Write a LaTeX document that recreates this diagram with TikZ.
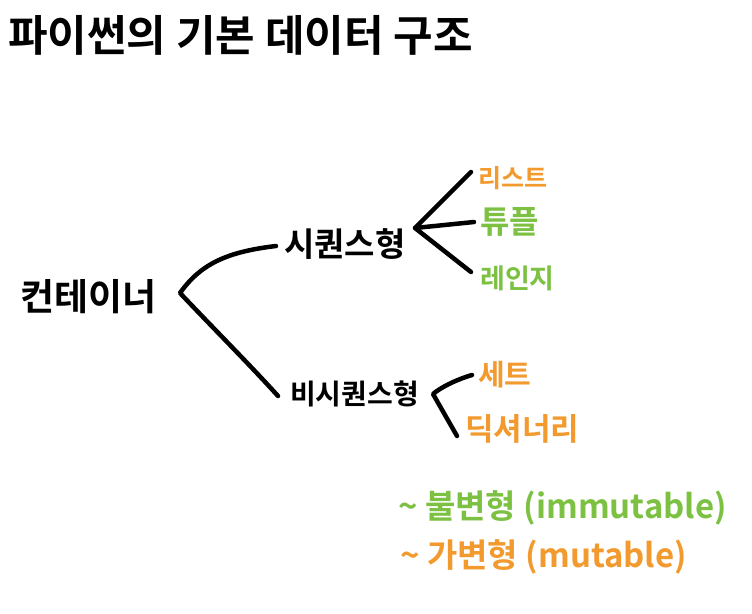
\documentclass[tikz,border=0pt]{standalone}
\usepackage{fontspec}
\setmainfont{Noto Sans CJK KR}
\newfontfamily\krb{Noto Sans CJK KR}[BoldFont=* Bold]
\definecolor{mutorange}{HTML}{F29A2E}
\definecolor{immgreen}{HTML}{7CC142}
\begin{document}
\begin{tikzpicture}[x=1pt,y=-1pt,
  lbl/.style={anchor=west,inner sep=0pt,font=\krb\bfseries},
  conn/.style={line width=4.5pt,line cap=round,line join=round,black}]
\useasboundingbox (0,0) rectangle (752,613);
\fill[white] (0,0) rectangle (752,613);
% title
\node[lbl,font=\krb\bfseries\fontsize{43}{46}\selectfont] (title) at (8,35) {파이썬의 기본 데이터 구조};
% root
\node[lbl,font=\krb\bfseries\fontsize{37}{40}\selectfont] (root) at (20,297) {컨테이너};
% level 1
\node[lbl,font=\krb\bfseries\fontsize{33}{36}\selectfont] (seq) at (284,244) {시퀀스형};
\node[lbl,font=\krb\bfseries\fontsize{28}{31}\selectfont] (nseq) at (290,394) {비시퀀스형};
% leaves
\node[lbl,text=mutorange,font=\krb\bfseries\fontsize{25}{28}\selectfont] (list) at (478,178) {리스트};
\node[lbl,text=immgreen,font=\krb\bfseries\fontsize{32}{34}\selectfont] (tuple) at (480,222) {튜플};
\node[lbl,text=immgreen,font=\krb\bfseries\fontsize{27}{30}\selectfont] (range) at (480,278) {레인지};
\node[lbl,text=mutorange,font=\krb\bfseries\fontsize{29}{31}\selectfont] (set) at (478,375) {세트};
\node[lbl,text=mutorange,font=\krb\bfseries\fontsize{31}{33}\selectfont] (dict) at (465,429) {딕셔너리};
% legend
\node[lbl,text=immgreen,font=\krb\bfseries\fontsize{33}{36}\selectfont] (imm) at (398,508) {\textasciitilde\ 불변형 (immutable)};
\node[lbl,text=mutorange,font=\krb\bfseries\fontsize{33}{36}\selectfont] (mut) at (400,557) {\textasciitilde\ 가변형 (mutable)};
% fork points
\coordinate (v0) at (180,293);
\coordinate (v1) at (415,228);
\coordinate (v2) at (433,394);
% connectors
\draw[conn] ([xshift=-8pt,yshift=-2pt]seq.west) .. controls (225,252) and (200,265) .. (v0) .. controls (215,330) and (250,365) .. ([xshift=-12pt,yshift=-2pt]nseq.west);
\draw[conn] ([xshift=-7pt,yshift=6pt]list.west) -- (v1) -- ([xshift=-6pt]tuple.west);
\draw[conn] (v1) -- ([xshift=-9pt,yshift=6pt]range.west);
\draw[conn] ([xshift=-6pt]set.west) .. controls (455,380) and (440,388) .. (v2) -- ([xshift=-8pt,yshift=-7pt]dict.west);
\end{tikzpicture}
\end{document}
